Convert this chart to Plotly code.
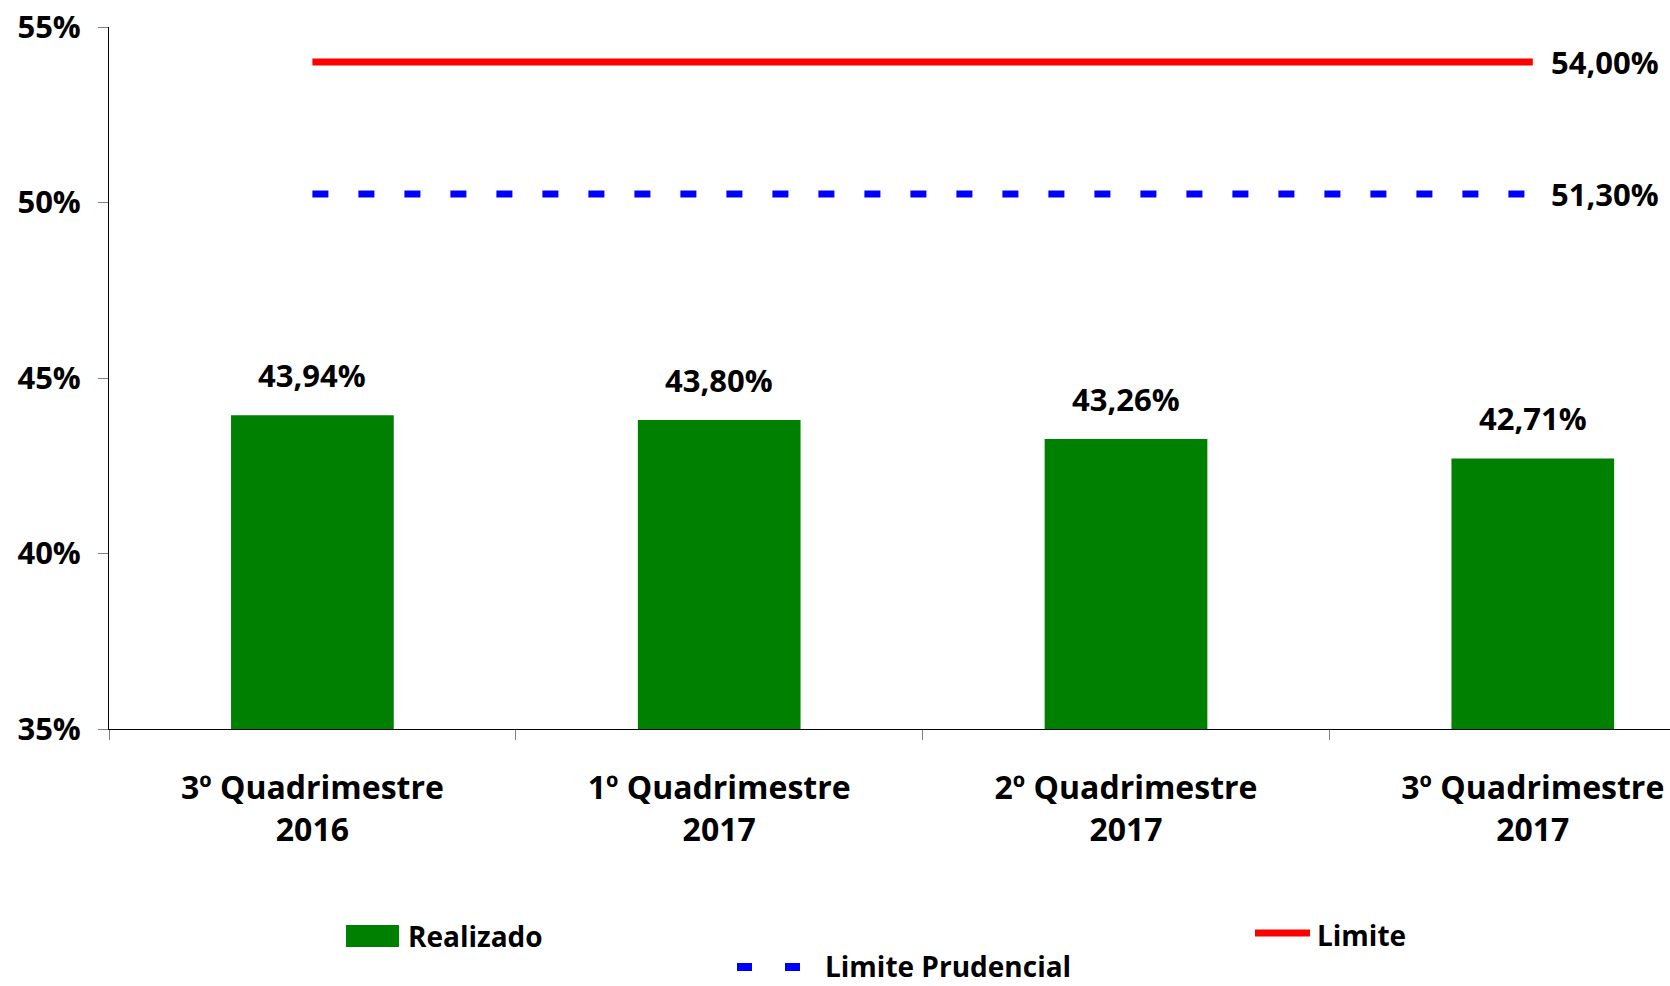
import plotly.graph_objects as go

# ---- data ----
categories = ["3º Quadrimestre<br>2016", "1º Quadrimestre<br>2017",
              "2º Quadrimestre<br>2017", "3º Quadrimestre<br>2017"]
realizado = [43.94, 43.80, 43.26, 42.71]
realizado_labels = ["43,94%", "43,80%", "43,26%", "42,71%"]
limite = [54.00, 54.00, 54.00, 54.00]
limite_label = "54,00%"
prudencial = [50.24, 50.24, 50.24, 50.24]   # drawn position as seen in picture
prudencial_label = "51,30%"
y_ticks = [35, 40, 45, 50, 55]
y_ticktext = [f"{v}%" for v in y_ticks]

GREEN = "#008000"
RED = "#FF0000"
BLUE = "#0000FF"
FONT = "Open Sans"

W, H = 1670, 986
ML, MR, MT, MB = 109, 0, 27, 257
PW, PH = W - ML - MR, H - MT - MB
CAT_PX = 406.8
x_right = -0.5 + PW / CAT_PX


def px_x(px):
    return (px - ML) / PW


def px_y(py):
    return (H - MB - py) / PH


fig = go.Figure()
fig.add_trace(go.Bar(x=categories, y=realizado, name="Realizado",
                     marker=dict(color=GREEN, line=dict(width=0)), width=0.4,
                     showlegend=False, hoverinfo="y"))
fig.add_trace(go.Scatter(x=categories, y=limite, name="Limite", mode="lines",
                         line=dict(color=RED, width=7), showlegend=False))
fig.add_trace(go.Scatter(x=categories, y=prudencial, name="Limite Prudencial",
                         mode="lines", line=dict(color=BLUE, width=7, dash="16px,30px"),
                         showlegend=False))

lab_font = dict(family=FONT, size=31, color="black", weight=700)
annotations = []
for c, v, t in zip(categories, realizado, realizado_labels):
    annotations.append(dict(x=c, y=v, text=t, showarrow=False, yanchor="middle",
                            yshift=40, font=lab_font))
annotations.append(dict(x=categories[-1], y=limite[-1], text=limite_label, showarrow=False,
                        xanchor="left", yanchor="middle", xshift=16, font=lab_font))
annotations.append(dict(x=categories[-1], y=prudencial[-1], text=prudencial_label, showarrow=False,
                        xanchor="left", yanchor="middle", xshift=16, font=lab_font))

# manual legend
leg_font = dict(family=FONT, size=28, color="black", weight=700)
annotations += [
    dict(xref="paper", yref="paper", x=px_x(406), y=px_y(936), text="Realizado",
         showarrow=False, xanchor="left", yanchor="middle", font=leg_font),
    dict(xref="paper", yref="paper", x=px_x(1315), y=px_y(935), text="Limite",
         showarrow=False, xanchor="left", yanchor="middle", font=leg_font),
    dict(xref="paper", yref="paper", x=px_x(823), y=px_y(966), text="Limite Prudencial",
         showarrow=False, xanchor="left", yanchor="middle", font=leg_font),
]
shapes = [
    dict(type="rect", xref="paper", yref="paper", x0=px_x(346), x1=px_x(399),
         y0=px_y(947), y1=px_y(925), fillcolor=GREEN, line=dict(width=0)),
    dict(type="line", xref="paper", yref="paper", x0=px_x(1255), x1=px_x(1310),
         y0=px_y(933), y1=px_y(933), line=dict(color=RED, width=7)),
    dict(type="line", xref="paper", yref="paper", x0=px_x(737), x1=px_x(800),
         y0=px_y(967), y1=px_y(967), line=dict(color=BLUE, width=8, dash="15px,33px")),
]

fig.update_layout(
    width=W, height=H,
    margin=dict(l=ML, r=MR, t=MT, b=MB, pad=0, autoexpand=False),
    paper_bgcolor="white", plot_bgcolor="white",
    showlegend=False,
    annotations=annotations, shapes=shapes,
)
fig.update_xaxes(type="category", range=[-0.5, x_right], tickson="boundaries",
                 ticks="outside", ticklen=10, tickcolor="#808080", tickwidth=1,
                 showline=True, linecolor="black", linewidth=1, showgrid=False,
                 zeroline=False, ticklabelstandoff=31, automargin=False,
                 tickfont=dict(family=FONT, size=32, color="black", weight=700))
fig.update_yaxes(range=[35, 55], tickmode="array", tickvals=y_ticks, ticktext=y_ticktext,
                 ticks="outside", ticklen=10, tickcolor="#808080", tickwidth=1,
                 showline=True, linecolor="black", linewidth=1, showgrid=False,
                 zeroline=False, ticklabelstandoff=11, automargin=False,
                 tickfont=dict(family=FONT, size=31, color="black", weight=700))

fig.write_html("out.html", config={"displayModeBar": False},
               post_script="document.body.style.margin='0';document.body.style.overflow='hidden';")
